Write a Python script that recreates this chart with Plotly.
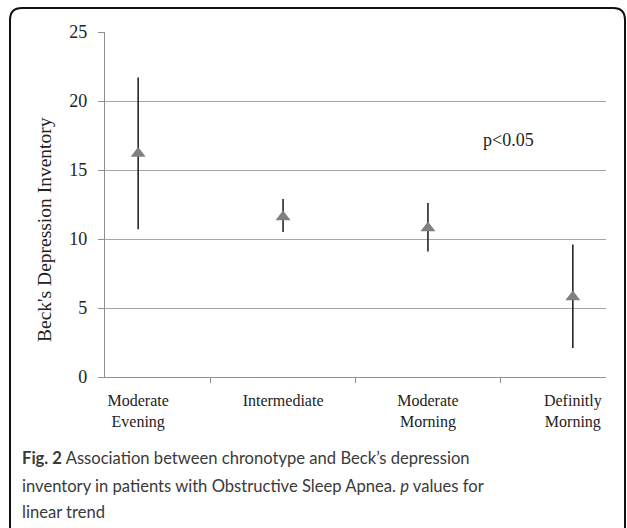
import plotly.graph_objects as go

categories = ["Moderate<br>Evening", "Intermediate", "Moderate<br>Morning", "Definitly<br>Morning"]
means = [16.2, 11.6, 10.8, 5.8]
upper = [21.7, 12.9, 12.6, 9.6]
lower = [10.7, 10.5, 9.1, 2.1]
y_ticks = [0, 5, 10, 15, 20, 25]

W, H = 627, 528
L, R, T, B = 105, 606, 32, 377

def px(x):
    return (x - L) / (R - L)

def py(y):
    return (B - y) / (B - T)

fig = go.Figure()
fig.add_trace(go.Scatter(
    x=categories, y=means, mode="markers",
    marker=dict(symbol="triangle-up", size=13, color="#808080", line=dict(width=0)),
    error_y=dict(type="data", symmetric=False,
                 array=[u - m for u, m in zip(upper, means)],
                 arrayminus=[m - l for m, l in zip(means, lower)],
                 color="#262626", thickness=1.6, width=0),
    showlegend=False, hoverinfo="skip",
))

serif = "Liberation Serif"
fig.update_layout(
    width=W, height=H,
    margin=dict(l=L, r=W - R, t=T, b=H - B, pad=0),
    paper_bgcolor="white", plot_bgcolor="white",
    font=dict(family=serif, color="#222"),
    xaxis=dict(showgrid=False, showline=True, linecolor="#8f8f8f", linewidth=1.4,
               ticks="outside", tickson="boundaries", ticklen=5, tickcolor="#8f8f8f",
               ticklabelstandoff=9,
               tickfont=dict(family=serif, size=16, color="#222"), fixedrange=True),
    yaxis=dict(range=[0, 25], tickvals=y_ticks, showgrid=True, gridcolor="#a6a6a6", gridwidth=1.2,
               showline=True, linecolor="#8f8f8f", linewidth=1.4, zeroline=False,
               ticks="outside", ticklen=6, tickcolor="#8f8f8f",
               ticklabelstandoff=7,
               tickfont=dict(family=serif, size=18, color="#222"), fixedrange=True),
)

anns = []
anns.append(dict(text="Beck's Depression Inventory", xref="paper", yref="paper",
                 x=px(44), y=py(230), textangle=-90, showarrow=False,
                 font=dict(family=serif, size=19.5, color="#222"),
                 xanchor="center", yanchor="middle"))
anns.append(dict(text="p<0.05", xref="paper", yref="paper", x=px(508), y=py(140),
                 showarrow=False, font=dict(family=serif, size=18, color="#222"),
                 xanchor="center", yanchor="middle"))
cap_font = dict(family="Lato", size=16.6, color="#3a3a3a")
cap_lines = [
    ("<b>Fig. 2</b> Association between chronotype and Beck\u2019s depression", 458),
    ("inventory in patients with Obstructive Sleep Apnea. <i>p</i> values for", 486),
    ("linear trend", 512),
]
for txt, yy in cap_lines:
    anns.append(dict(text=txt, xref="paper", yref="paper", x=px(20), y=py(yy),
                     showarrow=False, font=cap_font, xanchor="left", yanchor="middle"))
fig.update_layout(annotations=anns)

# rounded frame
x0, x1, y0, y1, r = 10, 625, 8, 560, 12
path = (f"M {px(x0)} {py(y1)} L {px(x0)} {py(y0 + r)} "
        f"Q {px(x0)} {py(y0)} {px(x0 + r)} {py(y0)} "
        f"L {px(x1 - r)} {py(y0)} Q {px(x1)} {py(y0)} {px(x1)} {py(y0 + r)} "
        f"L {px(x1)} {py(y1)}")
fig.add_shape(type="path", path=path, xref="paper", yref="paper",
              line=dict(color="#111", width=2))

fig.write_html("out.html", config={"displayModeBar": False},
               post_script="document.body.style.margin='0';document.body.style.overflow='hidden';")
